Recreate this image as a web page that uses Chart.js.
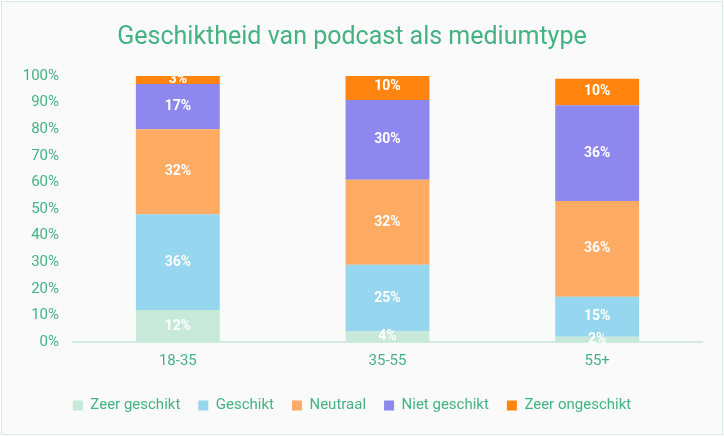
<!DOCTYPE html>
<html><head><meta charset="utf-8">
<script src="https://cdn.jsdelivr.net/npm/chart.js@4"></script>
<style>
html,body{margin:0;padding:0;background:#fff;}
#wrap{position:absolute;left:1px;top:1px;width:720px;height:432px;border:1px solid #d5ece2;background:#fafafa;}
</style></head><body>
<div id="wrap"><canvas id="c" width="720" height="432"></canvas></div>
<script>
const categories = ["18-35", "35-55", "55+"];
const seriesNames = ["Zeer geschikt", "Geschikt", "Neutraal", "Niet geschikt", "Zeer ongeschikt"];
const zeerGeschikt = [12, 4, 2];
const geschikt = [36, 25, 15];
const neutraal = [32, 32, 36];
const nietGeschikt = [17, 30, 36];
const zeerOngeschikt = [3, 10, 10];
const yTicks = [0,10,20,30,40,50,60,70,80,90,100];
const colors = ["#c6e9d9", "#96d6ee", "#ffab63", "#8d87ee", "#ff8410"];
const green = "#44b283";
const FONT = "'Roboto', sans-serif";

const values = [zeerGeschikt, geschikt, neutraal, nietGeschikt, zeerOngeschikt];

const labelPlugin = {
  id: 'lbl',
  afterDatasetsDraw(chart) {
    const ctx = chart.ctx;
    ctx.save();
    ctx.fillStyle = '#ffffff';
    ctx.font = "bold 14px " + FONT;
    ctx.textAlign = 'center';
    ctx.textBaseline = 'middle';
    chart.data.datasets.forEach((ds, i) => {
      chart.getDatasetMeta(i).data.forEach((bar, j) => {
        const y = (bar.y + bar.base) / 2;
        ctx.fillText(ds.data[j] + '%', bar.x, y);
      });
    });
    ctx.restore();
  }
};

new Chart(document.getElementById('c'), {
  type: 'bar',
  data: {
    labels: categories,
    datasets: seriesNames.map((n, i) => ({
      label: n, data: values[i], backgroundColor: colors[i],
      categoryPercentage: 0.8, barPercentage: 0.5
    }))
  },
  options: {
    responsive: false, animation: false,
    devicePixelRatio: 1,
    layout: { padding: { left: 0, right: 20, top: 0, bottom: 11 } },
    plugins: {
      title: { display: true, text: 'Geschiktheid van podcast als mediumtype', color: green,
        font: { family: FONT, size: 25, weight: 'normal' }, padding: { top: 21, bottom: 23 } },
      legend: { position: 'bottom', labels: { color: green, font: { family: FONT, size: 15 },
        boxWidth: 10, boxHeight: 10, padding: 18 } },
      tooltip: { enabled: false }
    },
    scales: {
      x: { stacked: true, grid: { display: false, drawTicks: false },
        border: { color: '#d0eadf', width: 2 },
        ticks: { color: green, font: { family: FONT, size: 15 }, padding: 10 } },
      y: { stacked: true, min: 0, max: 100,
        afterBuildTicks(s) { s.ticks = yTicks.map(v => ({ value: v })); },
        afterFit(s) { s.width = 71; },
        grid: { display: false, drawTicks: false }, border: { display: false },
        ticks: { color: green, font: { family: FONT, size: 15 }, padding: 14,
          callback: v => v + '%' } }
    }
  },
  plugins: [labelPlugin]
});
</script>
</body></html>
